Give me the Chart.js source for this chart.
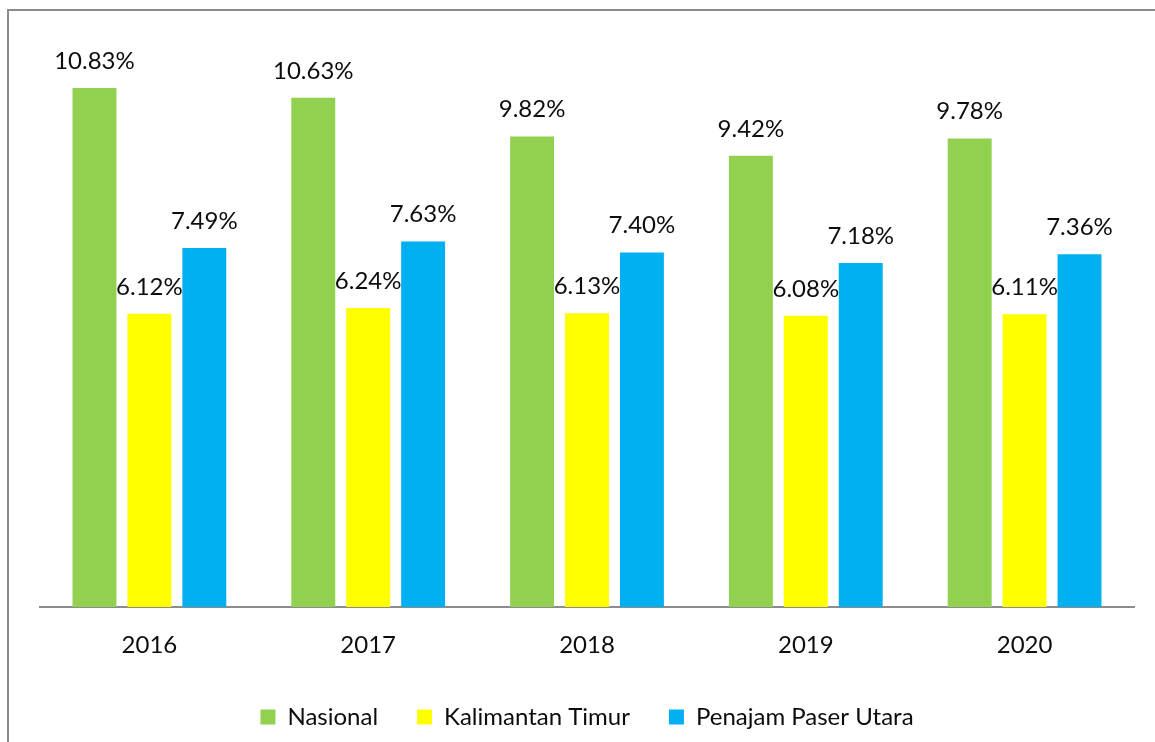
<!DOCTYPE html>
<html>
<head>
<meta charset="utf-8">
<script src="https://cdn.jsdelivr.net/npm/chart.js@4.4.1/dist/chart.umd.min.js"></script>
<style>
  html, body { margin: 0; padding: 0; background: #fff; }
  #wrap { position: relative; width: 1155px; height: 742px; overflow: hidden; }
  #frame { position: absolute; left: 7px; top: 9px; width: 1200px; height: 800px;
           border-left: 2px solid #8c8c8c; border-top: 2px solid #8c8c8c; box-sizing: border-box; }
  canvas { position: absolute; left: 0; top: 0; }
</style>
</head>
<body>
<div id="wrap">
  <div id="frame"></div>
  <canvas id="c" width="1155" height="742"></canvas>
</div>
<script>
const categories = ['2016', '2017', '2018', '2019', '2020'];
const nasional = [10.83, 10.63, 9.82, 9.42, 9.78];
const kalimantanTimur = [6.12, 6.24, 6.13, 6.08, 6.11];
const penajamPaserUtara = [7.49, 7.63, 7.40, 7.18, 7.36];
const seriesNames = ['Nasional', 'Kalimantan Timur', 'Penajam Paser Utara'];

const FONT = 'Lato, "Open Sans", sans-serif';

const valueLabels = {
  id: 'valueLabels',
  afterDatasetsDraw(chart) {
    const ctx = chart.ctx;
    ctx.save();
    ctx.font = '24px ' + FONT;
    ctx.fillStyle = '#0d0d0d';
    ctx.textAlign = 'center';
    ctx.textBaseline = 'alphabetic';
    chart.data.datasets.forEach((ds, i) => {
      const meta = chart.getDatasetMeta(i);
      meta.data.forEach((bar, j) => {
        ctx.fillText(ds.data[j].toFixed(2) + '%', bar.x, bar.y - 19);
      });
    });
    ctx.restore();
  }
};

new Chart(document.getElementById('c'), {
  type: 'bar',
  data: {
    labels: categories,
    datasets: [
      { label: seriesNames[0], data: nasional, backgroundColor: '#92D050' },
      { label: seriesNames[1], data: kalimantanTimur, backgroundColor: '#FFFF00' },
      { label: seriesNames[2], data: penajamPaserUtara, backgroundColor: '#00B0F0' }
    ]
  },
  options: {
    responsive: false,
    animation: false,
    devicePixelRatio: 1,
    layout: { padding: { left: 40, right: 21, top: 32, bottom: 3 } },
    datasets: { bar: { barPercentage: 0.8, categoryPercentage: 0.753 } },
    scales: {
      x: {
        grid: { display: false, drawTicks: false },
        border: { display: true, color: '#8c8c8c', width: 2 },
        ticks: { color: '#0d0d0d', font: { family: FONT, size: 24 }, padding: 24 },
        afterFit(scale) { scale.height = 59; }
      },
      y: { display: false, min: 0, max: 12 }
    },
    plugins: {
      legend: {
        position: 'bottom',
        labels: {
          color: '#0d0d0d',
          font: { family: FONT, size: 24 },
          boxWidth: 15, boxHeight: 15,
          padding: 39
        }
      },
      tooltip: { enabled: false }
    }
  },
  plugins: [valueLabels]
});
</script>
</body>
</html>
